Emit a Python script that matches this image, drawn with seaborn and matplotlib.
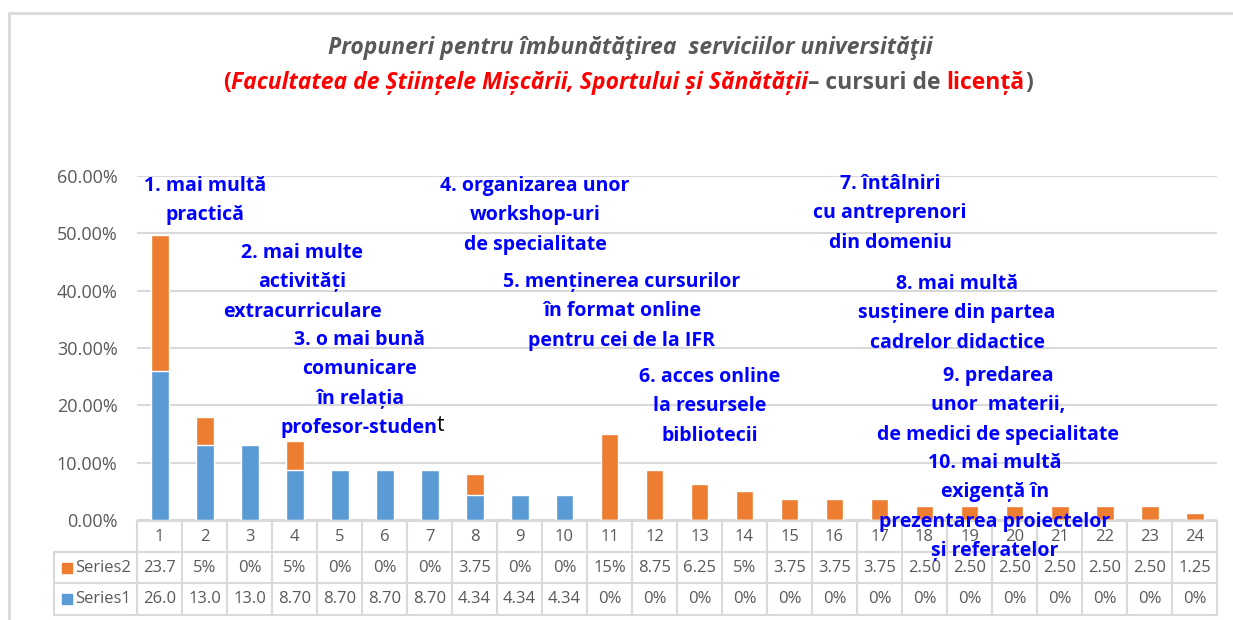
import numpy as np
import pandas as pd
import seaborn as sns
import matplotlib.pyplot as plt
from matplotlib.transforms import blended_transform_factory
from matplotlib.lines import Line2D
from matplotlib.patches import Rectangle

# Chart values (percent)
categories = [str(i) for i in range(1, 25)]
series1 = [26.0, 13.0, 13.0, 8.70, 8.70, 8.70, 8.70, 4.34, 4.34, 4.34, 0, 0,
           0, 0, 0, 0, 0, 0, 0, 0, 0, 0, 0, 0]
series2 = [23.75, 5, 0, 5, 0, 0, 0, 3.75, 0, 0, 15, 8.75,
           6.25, 5, 3.75, 3.75, 3.75, 2.5, 2.5, 2.5, 2.5, 2.5, 2.5, 1.25]

# Cell texts exactly as Excel shows them in the data table
series2_labels = ['23.7', '5%', '0%', '5%', '0%', '0%', '0%', '3.75', '0%', '0%', '15%', '8.75',
                  '6.25', '5%', '3.75', '3.75', '3.75', '2.50', '2.50', '2.50', '2.50', '2.50', '2.50', '1.25']
series1_labels = ['26.0', '13.0', '13.0', '8.70', '8.70', '8.70', '8.70', '4.34', '4.34', '4.34', '0%', '0%',
                  '0%', '0%', '0%', '0%', '0%', '0%', '0%', '0%', '0%', '0%', '0%', '0%']
y_ticks = [0, 10, 20, 30, 40, 50, 60]

# Proposal labels written over the chart
proposals = [
    ['1. mai multă', 'practică'],
    ['2. mai multe', 'activități', 'extracurriculare'],
    ['3. o mai bună', 'comunicare', 'în relația', 'profesor-studen'],
    ['4. organizarea unor', 'workshop-uri', 'de specialitate'],
    ['5. menținerea cursurilor', 'în format online', 'pentru cei de la IFR'],
    ['6. acces online', 'la resursele', 'bibliotecii'],
    ['7. întâlniri', 'cu antreprenori', 'din domeniu'],
    ['8. mai multă', 'susținere din partea', 'cadrelor didactice'],
    ['9. predarea', 'unor  materii,', 'de medici de specialitate'],
    ['10. mai multă', 'exigență în', 'prezentarea proiectelor', 'și referatelor'],
]

BLUE = '#5B9BD5'
ORANGE = '#ED7D31'
GREY = '#595959'
LINE = '#D9D9D9'
W, H = 1233, 620

sns.set_theme(style='white')
plt.rcParams['font.family'] = ['Open Sans', 'DejaVu Sans']

df = pd.DataFrame({'cat': categories, 's1': series1, 's2': series2})
df['total'] = df['s1'] + df['s2']

fig = plt.figure(figsize=(W / 100, H / 100), dpi=100)
ax = fig.add_axes([137 / W, 1 - 520 / H, 1080 / W, 344 / H])

# stacked bars: total in orange, series1 drawn on top in blue
sns.barplot(data=df, x='cat', y='total', color=ORANGE, saturation=1, width=0.4, ax=ax)
sns.barplot(data=df, x='cat', y='s1', color=BLUE, saturation=1, width=0.4, ax=ax)

ax.set_xlim(-0.5, 23.5)
ax.set_ylim(0, 60)
ax.set_yticks(y_ticks)
ax.set_yticklabels([f'{t:.2f}%' for t in y_ticks], color=GREY, fontsize=13)
ax.tick_params(axis='y', length=0, pad=14)
ax.tick_params(axis='x', length=0, labelbottom=False)
ax.set_xlabel('')
ax.set_ylabel('')
ax.yaxis.grid(True, color=LINE, lw=1.5)
ax.set_axisbelow(True)
for s in ax.spines.values():
    s.set_visible(False)

# data table under the plot
def fy(py):
    return 1 - py / H

tr = blended_transform_factory(ax.transData, fig.transFigure)
rows = [521, 552, 583, 615]
for py in rows:
    fig.add_artist(Line2D([-0.5, 23.5], [fy(py)] * 2, transform=tr, color=LINE, lw=1.5))
for py in rows[1:]:
    fig.add_artist(Line2D([54 / W, 137 / W], [fy(py)] * 2, color=LINE, lw=1.5))
fig.add_artist(Line2D([54 / W] * 2, [fy(552), fy(615)], color=LINE, lw=1.5))
for i in range(25):
    fig.add_artist(Line2D([i - 0.5] * 2, [fy(521), fy(615)], transform=tr, color=LINE, lw=1.5))

for i, cat in enumerate(categories):
    fig.text(i, fy(537), cat, transform=tr, ha='center', va='center', color=GREY, fontsize=12)
    fig.text(i, fy(568), series2_labels[i], transform=tr, ha='center', va='center', color=GREY, fontsize=12)
    fig.text(i, fy(599), series1_labels[i], transform=tr, ha='center', va='center', color=GREY, fontsize=12)

for py, name, col in [(568, 'Series2', ORANGE), (599, 'Series1', BLUE)]:
    fig.add_artist(Rectangle((62 / W, fy(py + 5)), 10 / W, 10 / H, color=col))
    fig.text(75 / W, fy(py), name, ha='left', va='center', color=GREY, fontsize=12)

# proposal annotations (centre x, first line y, in pixels)
spots = [(205, 186), (302, 253), (360, 340), (535, 186), (622, 282),
         (710, 377), (890, 184), (957, 284), (998, 376), (995, 463)]
for lines, (cx, cy) in zip(proposals, spots):
    for k, line in enumerate(lines):
        py = cy + k * 29.3
        if line == 'profesor-studen':
            fig.text(437 / W, fy(py), line, ha='right', va='center', color='#0000FF',
                     fontsize=14, fontweight='bold')
            fig.text(437 / W, fy(py - 2), 't', ha='left', va='center', color='black', fontsize=15)
        else:
            fig.text(cx / W, fy(py), line, ha='center', va='center', color='#0000FF',
                     fontsize=14, fontweight='bold')

# title
fig.text(630 / W, fy(48), 'Propuneri pentru îmbunătăţirea  serviciilor universităţii',
         ha='center', va='center', color=GREY, fontsize=16.5, fontweight='bold', style='italic')

pieces = [('(', 'red', 'normal'),
          ('Facultatea de Științele Mișcării, Sportului și Sănătății', 'red', 'italic'),
          ('– cursuri de ', GREY, 'normal'),
          ('licență', 'red', 'normal'),
          (')', GREY, 'normal')]
renderer = fig.canvas.get_renderer()
texts = []
x = 0
for s, col, st in pieces:
    t = fig.text(x, fy(83), s, ha='left', va='center', color=col, fontsize=16.5,
                 fontweight='bold', style=st, transform=None)
    w = t.get_window_extent(renderer).width
    texts.append((t, x))
    x += w
start = 628 - x / 2
for t, x0 in texts:
    t.set_position(((start + x0) / W, fy(83)))
    t.set_transform(fig.transFigure)

# chart area border
fig.add_artist(Line2D([8.5 / W, 8.5 / W], [0, fy(12.5)], color=LINE, lw=2))
fig.add_artist(Line2D([8.5 / W, 1], [fy(12.5)] * 2, color=LINE, lw=2))

fig.savefig('out.png', dpi=100)
